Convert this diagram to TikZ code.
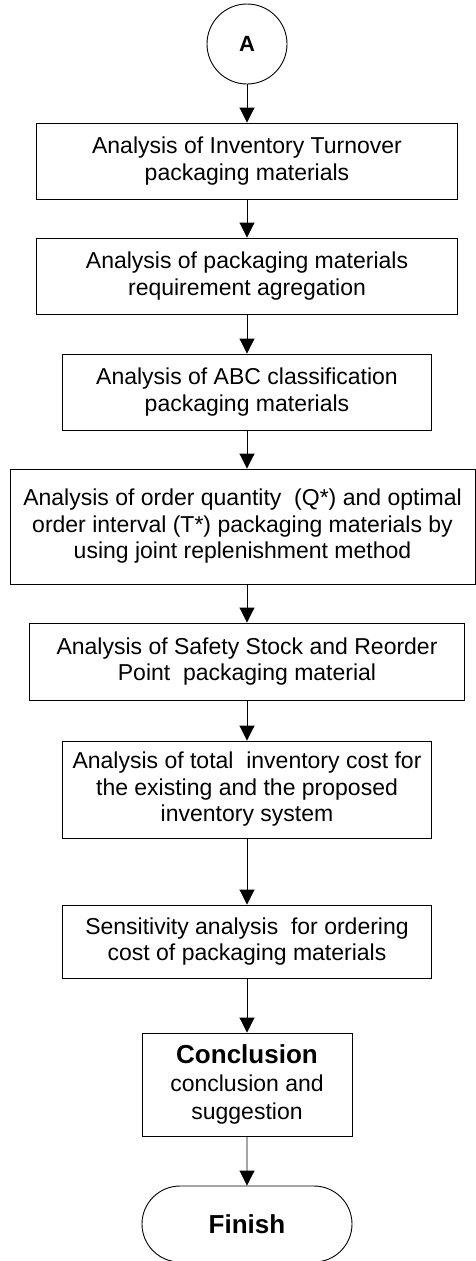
\documentclass[tikz,border=0pt]{standalone}
\usepackage{fontspec}
\setmainfont{Liberation Sans}
\usetikzlibrary{arrows.meta}
\usetikzlibrary{shapes.misc}
\tikzset{% 
    stepbox/.style={draw,rectangle,inner sep=0pt,align=center,line width=0.9pt,
        font=\fontsize{23}{26.5}\selectfont},
    endbox/.style={draw,rounded rectangle,inner sep=0pt,line width=0.9pt,
        minimum width=210pt,minimum height=76pt,font=\bfseries\fontsize{26}{30}\selectfont},
    link/.style={line width=0.9pt,-{Triangle[length=15pt,width=15pt]}}
}

\begin{document}
\begin{tikzpicture}[x=1pt,y=-1pt]
            \useasboundingbox (0,0) rectangle (476,1261);
            \node[draw,circle,inner sep=0pt,line width=0.9pt,minimum size=80pt,
                font=\bfseries\fontsize{22}{26}\selectfont] (a) at (247,44) {A};
            \node[stepbox,minimum width=421pt,minimum height=76pt] (b1) at (247,161)
                {Analysis of Inventory Turnover\\packaging materials};
            \node[stepbox,minimum width=421pt,minimum height=76pt] (b2) at (247,276)
                {Analysis of packaging materials\\requirement agregation};
            \node[stepbox,minimum width=369pt,minimum height=76pt] (b3) at (247,392)
                {Analysis of ABC classification\\packaging materials};
            \node[stepbox,minimum width=465pt,minimum height=115pt] (b4) at (242.5,526.5)
                {Analysis of order quantity\ \ (Q*) and optimal\\order interval (T*) packaging materials by\\using joint replenishment method};
            \node[stepbox,minimum width=435pt,minimum height=77pt] (b5) at (247,661.5)
                {Analysis of Safety Stock and Reorder\\Point\ \ packaging material};
            \node[stepbox,minimum width=369pt,minimum height=97pt] (b6) at (247,789.5)
                {Analysis of total\ \ inventory cost for\\the existing and the proposed\\inventory system};
            \node[stepbox,minimum width=369pt,minimum height=73pt] (b7) at (247,941.5)
                {Sensitivity analysis\ \ for ordering\\cost of packaging materials};
            \node[stepbox,minimum width=210pt,minimum height=103pt,
                font=\fontsize{23}{28}\selectfont] (b8) at (247,1084.5)
                {{\bfseries\fontsize{26}{28}\selectfont Conclusion}\\conclusion and\\suggestion};
            \node[endbox] (fin) at (247,1224) {Finish};

            \draw[link] (a) -- (b1);
            \draw[link] (b1) -- (b2);
            \draw[link] (b2) -- (b3);
            \draw[link] (b3) -- (b3 |- b4.north);
            \draw[link] (b5 |- b4.south) -- (b5);
            \draw[link] (b5) -- (b6);
            \draw[link] (b6) -- (b7);
            \draw[link] (b7) -- (b8);
            \draw[link] (b8) -- (fin);
        \end{tikzpicture}
\end{document}
